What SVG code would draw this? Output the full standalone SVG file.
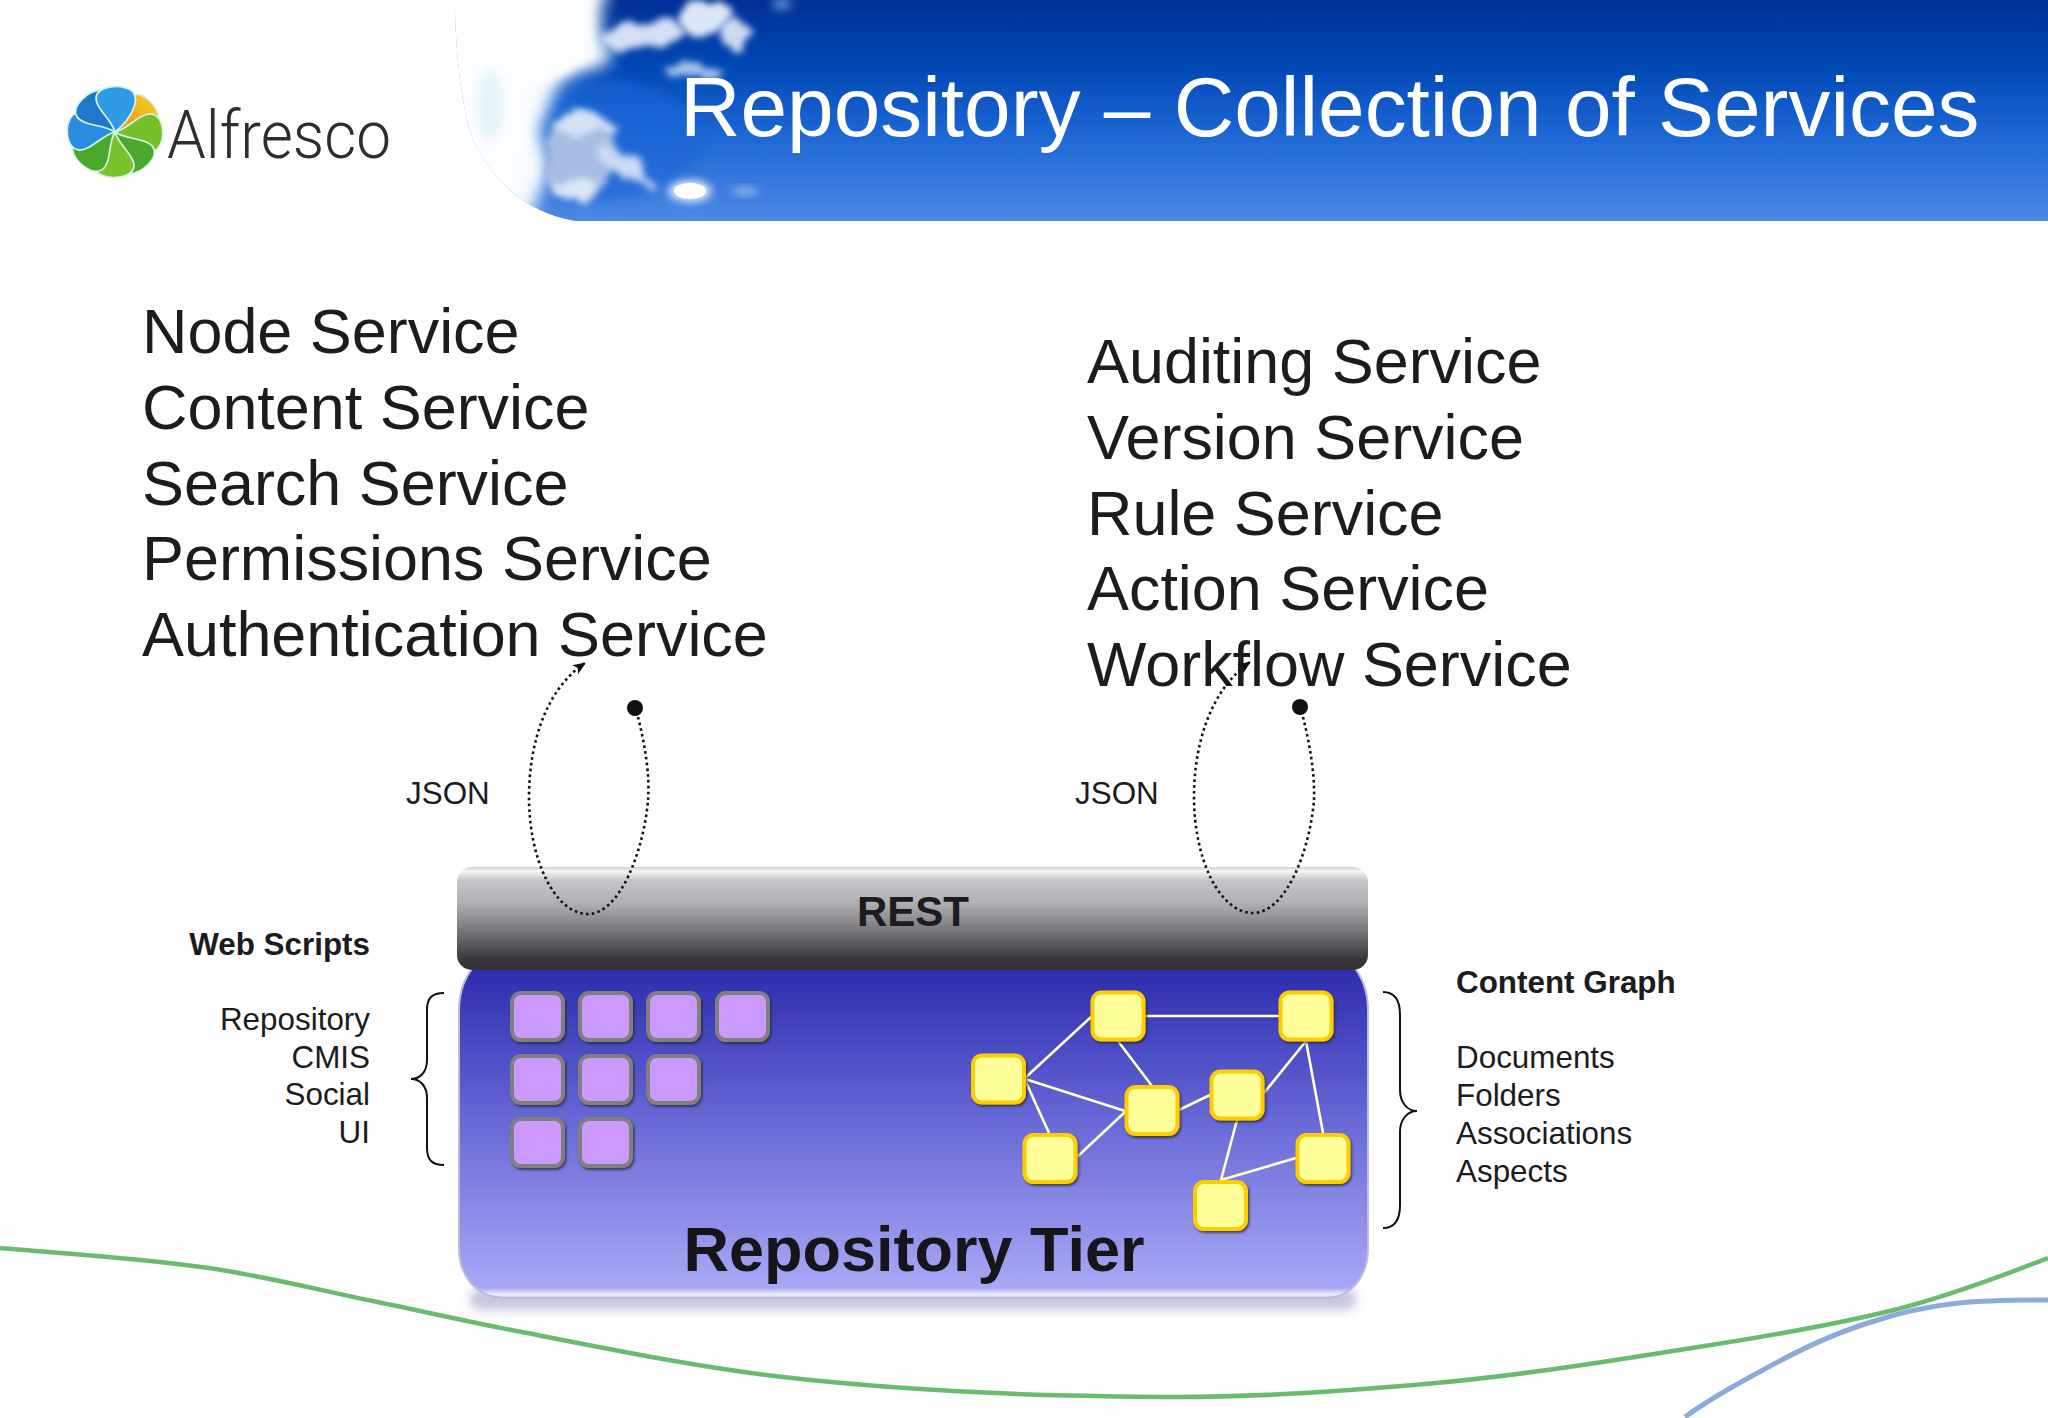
<svg xmlns="http://www.w3.org/2000/svg" xmlns:xlink="http://www.w3.org/1999/xlink" width="2048" height="1418" viewBox="0 0 2048 1418">
<style>
text{font-family:"Liberation Sans",Arial,sans-serif}
.svc{font-size:62.9px;fill:#1c1c20}
.sm{font-size:31.4px;fill:#1c1c20}
.b{font-weight:bold}
.pu{fill:#cc99ff;stroke:#808080;stroke-width:4;filter:url(#ds)}
.ye{fill:#ffff99;stroke:#ffcc00;stroke-width:4;filter:url(#ds)}
.link{stroke:#ffffcc;stroke-width:2.6;fill:none}
.brace{fill:none;stroke:#111;stroke-width:2}
.loop{fill:none;stroke:#111;stroke-width:2.6;stroke-dasharray:2.6 3.2}
</style>
<defs>
<linearGradient id="sky" x1="0" y1="0" x2="0" y2="1"><stop offset="0" stop-color="#003096"/><stop offset=".3" stop-color="#0048b4"/><stop offset=".6" stop-color="#1c66d4"/><stop offset="1" stop-color="#4c88e4"/></linearGradient>
<linearGradient id="bar" x1="0" y1="0" x2="0" y2="1"><stop offset="0" stop-color="#d0d0d2"/><stop offset=".04" stop-color="#f6f6f6"/><stop offset=".13" stop-color="#c6c5ca"/><stop offset=".35" stop-color="#b0afb3"/><stop offset=".62" stop-color="#77767a"/><stop offset=".88" stop-color="#3c3a3e"/><stop offset="1" stop-color="#302e32"/></linearGradient>
<linearGradient id="tier" x1="0" y1="0" x2="0" y2="1"><stop offset="0" stop-color="#2b2bab"/><stop offset=".25" stop-color="#4a4ac4"/><stop offset=".5" stop-color="#6c6cd8"/><stop offset=".75" stop-color="#8c8ce8"/><stop offset=".97" stop-color="#a8a8f6"/><stop offset=".99" stop-color="#eeeefc"/><stop offset="1" stop-color="#c4c4e4"/></linearGradient>
<linearGradient id="org" x1="0" y1="0" x2="0" y2="1"><stop offset="0" stop-color="#f5c81e"/><stop offset=".6" stop-color="#f2a21c"/><stop offset="1" stop-color="#ee8c1c"/></linearGradient>
<filter id="ds" x="-20%" y="-20%" width="150%" height="150%"><feDropShadow dx="1.5" dy="2" stdDeviation="1" flood-color="#222" flood-opacity=".7"/></filter>
<filter id="b5" x="-40%" y="-60%" width="180%" height="220%"><feGaussianBlur stdDeviation="5"/></filter>
<filter id="cl" x="-40%" y="-80%" width="180%" height="260%"><feTurbulence type="fractalNoise" baseFrequency=".035" numOctaves="3" seed="4" result="n"/><feDisplacementMap in="SourceGraphic" in2="n" scale="26" xChannelSelector="R" yChannelSelector="G"/><feGaussianBlur stdDeviation="3.500"/></filter>
<filter id="cw" x="-20%" y="-20%" width="140%" height="140%"><feTurbulence type="fractalNoise" baseFrequency=".02" numOctaves="3" seed="9" result="n"/><feDisplacementMap in="SourceGraphic" in2="n" scale="34" xChannelSelector="R" yChannelSelector="G"/><feGaussianBlur stdDeviation="8"/></filter>
<clipPath id="hdr"><path d="M455 0H2048V221H575C530 214 495 185 473 140C462 110 455 50 455 0Z"/></clipPath>
<marker id="ah" viewBox="0 0 12 10" refX="11" refY="5" markerWidth="13" markerHeight="11" markerUnits="userSpaceOnUse" orient="auto"><path d="M0 0L12 5L0 10L3 5Z" fill="#111"/></marker>
<path id="petal" d="M0 0C-4 -12 -21 -22 -21 -33C-20 -45 2 -49 13 -42C22 -33 13 -13 0 0Z" stroke="#d8f4e4" stroke-width="1.6"/>
</defs>
<rect width="2048" height="1418" fill="#fefefe"/>
<g id="header">
<path d="M455 0H2048V221H575C530 214 495 185 473 140C462 110 455 50 455 0Z" fill="url(#sky)"/>
<g clip-path="url(#hdr)">
<ellipse cx="600" cy="140" rx="100" ry="60" fill="#1a66d6" opacity=".6" filter="url(#b5)"/>
<path d="M420 -30H612L606 55L585 72L560 86L545 110L538 205L520 225L420 225Z" fill="#f6fbff" filter="url(#cw)"/>
<path d="M440 -20H590V60L530 90L520 190L480 190L440 90Z" fill="#fbfdff" filter="url(#b5)"/>
<ellipse cx="490" cy="105" rx="12" ry="35" fill="#d4f2f8" opacity=".7" filter="url(#b5)"/>
<ellipse cx="640" cy="35" rx="40" ry="13" fill="#d4dff5" filter="url(#cl)" transform="rotate(-8 640 35)"/>
<ellipse cx="705" cy="20" rx="27" ry="17" fill="#dde6f6" filter="url(#cl)"/>
<ellipse cx="735" cy="35" rx="14" ry="14" fill="#cdd9f2" filter="url(#cl)"/>
<ellipse cx="695" cy="68" rx="30" ry="7" fill="#a8c4ee" filter="url(#cl)"/>
<ellipse cx="782" cy="4" rx="10" ry="6" fill="#5f8ad8" filter="url(#b5)"/>
<ellipse cx="578" cy="158" rx="34" ry="42" fill="#a7bde4" filter="url(#cl)"/>
<ellipse cx="582" cy="125" rx="30" ry="12" fill="#d4e0f4" filter="url(#cl)"/>
<ellipse cx="575" cy="186" rx="22" ry="12" fill="#dde7f6" filter="url(#cl)"/>
<ellipse cx="625" cy="166" rx="34" ry="10" fill="#ccdaf2" filter="url(#cl)" transform="rotate(35 625 166)"/>
<ellipse cx="690" cy="191" rx="21" ry="10" fill="#fff" filter="url(#b5)"/>
<ellipse cx="690" cy="191" rx="16" ry="8" fill="#fff"/>
<ellipse cx="745" cy="191" rx="13" ry="3.500" fill="#a9c4ec" filter="url(#b5)"/>
</g>
<text x="680" y="136" style="font-size:83.800px;fill:#fff">Repository – Collection of Services</text>
</g>
<g id="logo">
<g transform="translate(115 132) scale(1.05 1)">
<use xlink:href="#petal" href="#petal" fill="url(#org)" transform="rotate(55)"/>
<use xlink:href="#petal" href="#petal" fill="#78bf2c" transform="rotate(95)"/>
<use xlink:href="#petal" href="#petal" fill="#4aa82c" transform="rotate(145)"/>
<use xlink:href="#petal" href="#petal" fill="#7cc22c" transform="rotate(185)"/>
<use xlink:href="#petal" href="#petal" fill="#4aa82c" transform="rotate(230)"/>
<use xlink:href="#petal" href="#petal" fill="#2a8de0" transform="rotate(275)"/>
<use xlink:href="#petal" href="#petal" fill="#1f78cc" transform="rotate(325)"/>
<use xlink:href="#petal" href="#petal" fill="#2f9ae8" transform="rotate(5)"/>
</g>
<text x="167" y="158" textLength="224" lengthAdjust="spacingAndGlyphs" style="font-family:Roboto,'Liberation Sans',sans-serif;font-weight:300;font-size:66px;fill:#2e2e2e">Alfresco</text>
</g>
<g id="swooshes" fill="none">
<path d="M0 1248C70 1254 139 1258 209 1268C270 1277 331 1293 392 1305C435 1314 479 1324 522 1332C609 1349 696 1367 783 1377C870 1387 957 1392 1044 1395C1088 1396 1131 1397 1175 1397C1262 1397 1349 1391 1436 1383C1523 1375 1611 1361 1698 1347C1763 1337 1829 1326 1894 1310C1945 1297 1997 1278 2048 1258" stroke="#6abb6e" stroke-width="4.500"/>
<path d="M1685 1417C1708 1400 1735 1385 1763 1370C1797 1351 1833 1334 1868 1323C1898 1313 1928 1306 1959 1303C1990 1300 2020 1300 2048 1300" stroke="#8daadc" stroke-width="5"/>
</g>
<g id="services-left" class="svc">
<text x="142" y="352.500">Node Service</text>
<text x="142" y="428.500">Content Service</text>
<text x="142" y="504.500">Search Service</text>
<text x="142" y="580">Permissions Service</text>
<text x="142" y="655.500">Authentication Service</text>
</g>
<g id="services-right" class="svc">
<text x="1087" y="382.500">Auditing Service</text>
<text x="1087" y="458.500">Version Service</text>
<text x="1087" y="534.500">Rule Service</text>
<text x="1087" y="610">Action Service</text>
<text x="1087" y="685.500">Workflow Service</text>
</g>
<g id="tier-node">
<rect x="470" y="1288" width="886" height="22" rx="10" fill="#b4b4d6" opacity=".75" filter="url(#b5)"/>
<path d="M478 962H1350C1362 975 1368 990 1368 1010V1248C1368 1278 1350 1298 1325 1298H505C478 1298 459 1278 459 1248V1010C459 990 465 975 478 962Z" fill="url(#tier)" stroke="#bcbcd8" stroke-width="2"/>
<text x="914" y="1270.500" text-anchor="middle" class="b" style="font-size:63px;fill:#15151a">Repository Tier</text>
</g>
<g id="rest-bar">
<rect x="457" y="867" width="911" height="103" rx="15" fill="url(#bar)"/>
<text x="913" y="926" text-anchor="middle" class="b" style="font-size:42px;fill:#1c1c20">REST</text>
</g>
<g id="web-scripts">
<rect class="pu" x="512" y="993" width="51" height="47" rx="9"/>
<rect class="pu" x="580" y="993" width="51" height="47" rx="9"/>
<rect class="pu" x="648" y="993" width="51" height="47" rx="9"/>
<rect class="pu" x="717" y="993" width="51" height="47" rx="9"/>
<rect class="pu" x="512" y="1056" width="51" height="47" rx="9"/>
<rect class="pu" x="580" y="1056" width="51" height="47" rx="9"/>
<rect class="pu" x="648" y="1056" width="51" height="47" rx="9"/>
<rect class="pu" x="512" y="1119" width="51" height="47" rx="9"/>
<rect class="pu" x="580" y="1119" width="51" height="47" rx="9"/>
</g>
<g id="connectors">
<path class="link" d="M1145 1016H1279M1091 1017L1025 1078M1118 1041L1152 1086M1025 1079L1125 1111M1025 1080L1049 1133M1077 1157L1125 1112M1179 1110L1210 1095M1264 1093L1306 1041M1306 1041L1323 1133M1237 1120L1221 1180M1221 1180L1296 1158"/>
<path class="loop" marker-end="url(#ah)" d="M638 717C645 745 650 775 648 800C644 850 620 914 588 914C555 914 529 860 529 797C529 745 545 690 585 663"/>
<path class="loop" marker-end="url(#ah)" d="M1303 717C1310 745 1315 775 1314 800C1310 850 1286 913 1253 913C1220 913 1194 860 1194 797C1194 745 1210 690 1250 662"/>
<path class="brace" d="M444 993C432 993 427 998 427 1010V1060C427 1072 420 1079 411 1079C420 1079 427 1086 427 1098V1148C427 1160 432 1165 444 1165"/>
<path class="brace" d="M1383 992C1395 992 1400 1000 1400 1015V1090C1400 1102 1407 1111 1417 1111C1407 1111 1400 1120 1400 1132V1205C1400 1220 1395 1228 1383 1228"/>
</g>
<g id="content-graph">
<rect class="ye" x="1092.500" y="992.500" width="51" height="47" rx="9"/>
<rect class="ye" x="1280.500" y="992.500" width="51" height="47" rx="9"/>
<rect class="ye" x="973" y="1055.500" width="51" height="47" rx="9"/>
<rect class="ye" x="1126.500" y="1087" width="51" height="47" rx="9"/>
<rect class="ye" x="1211.500" y="1071.500" width="51" height="47" rx="9"/>
<rect class="ye" x="1024.500" y="1135" width="51" height="47" rx="9"/>
<rect class="ye" x="1297.500" y="1135" width="51" height="47" rx="9"/>
<rect class="ye" x="1195" y="1182" width="51" height="47" rx="9"/>
</g>
<g id="dots"><circle cx="635" cy="708" r="8" fill="#111"/><circle cx="1300" cy="707" r="8" fill="#111"/></g>
<g id="labels" class="sm">
<text x="406" y="804">JSON</text>
<text x="1075" y="804">JSON</text>
<text x="370" y="955" text-anchor="end" class="b">Web Scripts</text>
<text x="370" y="1030" text-anchor="end">Repository</text>
<text x="370" y="1068" text-anchor="end">CMIS</text>
<text x="370" y="1105" text-anchor="end">Social</text>
<text x="370" y="1143" text-anchor="end">UI</text>
<text x="1456" y="993" class="b">Content Graph</text>
<text x="1456" y="1068">Documents</text>
<text x="1456" y="1106">Folders</text>
<text x="1456" y="1144">Associations</text>
<text x="1456" y="1182">Aspects</text>
</g>
</svg>
